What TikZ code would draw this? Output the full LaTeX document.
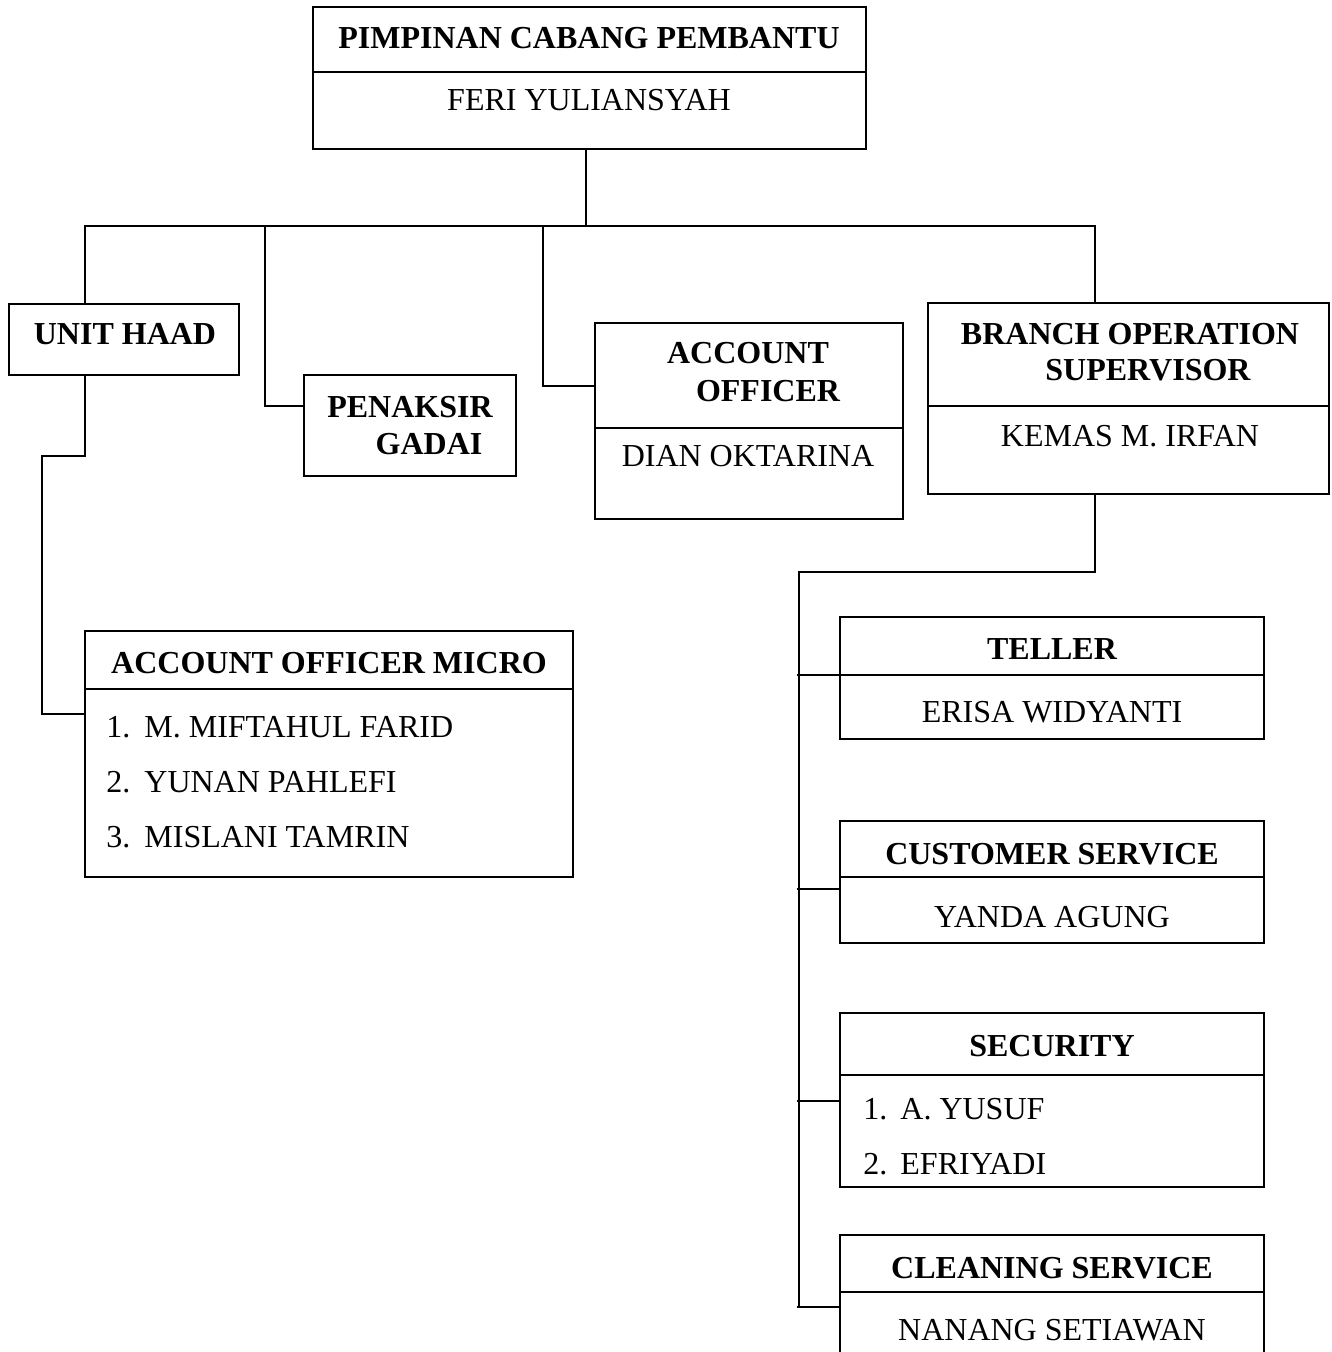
\documentclass[tikz,border=0pt]{standalone}
\usepackage{fontspec}
\setmainfont{Liberation Serif}
\usetikzlibrary{fit}
\begin{document}
\begin{tikzpicture}[x=0.5pt,y=-0.5pt,
  box/.style={draw, line width=1.1pt, inner sep=0pt},
  ln/.style={line width=1.1pt},
  hd/.style={font=\fontsize{16}{19}\selectfont\bfseries, anchor=base, inner sep=0pt, yshift=-1pt},
  nm/.style={font=\fontsize{16}{19}\selectfont, anchor=base, inner sep=0pt, yshift=-1pt},
  itm/.style={font=\fontsize{16}{19}\selectfont, anchor=base west, inner sep=0pt, yshift=-1pt}]
\path[use as bounding box, clip] (0,0) rectangle (1331,1352);

% boxes
\node[box, fit={(313,7) (866,149)}] (top) {};
\node[box, fit={(9,304) (239,375)}] (haad) {};
\node[box, fit={(304,375) (516,476)}] (pen) {};
\node[box, fit={(595,323) (903,519)}] (ao) {};
\node[box, fit={(928,303) (1329,494)}] (bos) {};
\node[box, fit={(85,631) (573,877)}] (aom) {};
\node[box, fit={(840,617) (1264,739)}] (tel) {};
\node[box, fit={(840,821) (1264,943)}] (cs) {};
\node[box, fit={(840,1013) (1264,1187)}] (sec) {};
\node[box, fit={(840,1235) (1264,1400)}] (cln) {};

% dividers
\draw[ln] (top.west |- 0,72) -- (top.east |- 0,72);
\draw[ln] (ao.west |- 0,428) -- (ao.east |- 0,428);
\draw[ln] (bos.west |- 0,406) -- (bos.east |- 0,406);
\draw[ln] (aom.west |- 0,689) -- (aom.east |- 0,689);
\draw[ln] (tel.west |- 0,675) -- (tel.east |- 0,675);
\draw[ln] (cs.west |- 0,877) -- (cs.east |- 0,877);
\draw[ln] (sec.west |- 0,1075) -- (sec.east |- 0,1075);
\draw[ln] (cln.west |- 0,1292) -- (cln.east |- 0,1292);

% texts
\node[hd] (t1) at (589,47) {PIMPINAN CABANG PEMBANTU};
\node[nm] (n1) at (589,109) {FERI YULIANSYAH};
\node[hd] (t2) at (125,343) {UNIT HAAD};
\node[hd] (t3a) at (410,415) {PENAKSIR};
\node[hd] (t3b) at (429,452) {GADAI};
\node[hd] (t4a) at (748,362) {ACCOUNT};
\node[hd] (t4b) at (768,399) {OFFICER};
\node[nm] (n4) at (748,464) {DIAN OKTARINA};
\node[hd] (t5a) at (1130,343) {BRANCH OPERATION};
\node[hd] (t5b) at (1148,379) {SUPERVISOR};
\node[nm] (n5) at (1130,444) {KEMAS M. IRFAN};
\node[hd] (t6) at (329,671) {ACCOUNT OFFICER MICRO};
\node[itm] (i61) at (106,735) {1.};
\node[itm] (n61) at (144,735) {M. MIFTAHUL FARID};
\node[itm] (i62) at (106,790) {2.};
\node[itm] (n62) at (144,790) {YUNAN PAHLEFI};
\node[itm] (i63) at (106,845) {3.};
\node[itm] (n63) at (144,845) {MISLANI TAMRIN};
\node[hd] (t7) at (1052,657) {TELLER};
\node[nm] (n7) at (1052,720) {ERISA WIDYANTI};
\node[hd] (t8) at (1052,862) {CUSTOMER SERVICE};
\node[nm] (n8) at (1052,925) {YANDA AGUNG};
\node[hd] (t9) at (1052,1054) {SECURITY};
\node[itm] (i91) at (863,1117) {1.};
\node[itm] (n91) at (900,1117) {A. YUSUF};
\node[itm] (i92) at (863,1172) {2.};
\node[itm] (n92) at (900,1172) {EFRIYADI};
\node[hd] (t10) at (1052,1276) {CLEANING SERVICE};
\node[nm] (n10) at (1052,1338) {NANANG SETIAWAN};

% connectors
\coordinate (bus) at (586,226);
\coordinate (busL) at (85,226);
\coordinate (busR) at (1095,226);
\coordinate (busP) at (265,226);
\coordinate (busA) at (543,226);
\draw[ln] (top.south -| bus) -- (bus);
\draw[ln] (haad.north -| busL) -- (busL) -- (busR) -- (bos.north -| busR);
\draw[ln] (busP) |- (pen.west |- 0,406);
\draw[ln] (busA) |- (ao.west |- 0,386);
\draw[ln] (haad.south -| busL) -- (85,456) -- (42,456) |- (aom.west |- 0,714);
\coordinate (vb) at (799,572);
\draw[ln] (bos.south -| busR) -- (1095,572) -- (vb) -- (799,1307);
\draw[ln] (797,675) -- (tel.west |- 0,675);
\draw[ln] (797,889) -- (cs.west |- 0,889);
\draw[ln] (797,1101) -- (sec.west |- 0,1101);
\draw[ln] (797,1307) -- (cln.west |- 0,1307);
\end{tikzpicture}
\end{document}
